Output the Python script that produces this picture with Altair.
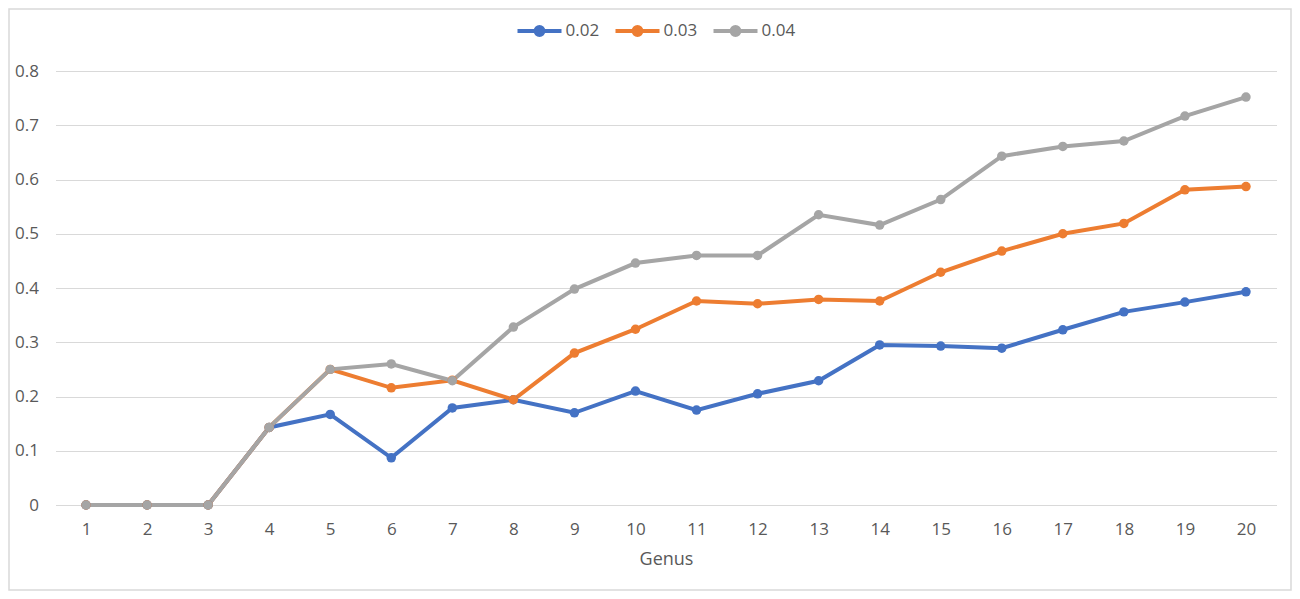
import altair as alt
import pandas as pd

genus = list(range(1, 21))
series_names = ["0.02", "0.03", "0.04"]
s002 = [0, 0, 0, 0.143, 0.167, 0.087, 0.179, 0.194, 0.170, 0.210,
        0.175, 0.205, 0.229, 0.295, 0.293, 0.289, 0.323, 0.356, 0.374, 0.393]
s003 = [0, 0, 0, 0.143, 0.250, 0.216, 0.230, 0.194, 0.280, 0.324,
        0.376, 0.371, 0.379, 0.376, 0.429, 0.468, 0.500, 0.519, 0.581, 0.587]
s004 = [0, 0, 0, 0.143, 0.250, 0.260, 0.229, 0.328, 0.398, 0.446,
        0.460, 0.460, 0.535, 0.516, 0.563, 0.643, 0.661, 0.671, 0.717, 0.752]
colors = ["#4472C4", "#ED7D31", "#A5A5A5"]

rows = []
for name, vals in zip(series_names, [s002, s003, s004]):
    for g, v in zip(genus, vals):
        rows.append({"Genus": g, "value": v, "series": name})
df = pd.DataFrame(rows)

W, H = 1221, 434
PL, PT, PR, PB = 47.5, 63, 15.5, 86
FONT = "Open Sans"
TXT = "#595959"

def circ(r):
    return f"M{-r},0A{r},{r},0,1,0,{r},0A{r},{r},0,1,0,{-r},0"

sym = "M-1,0L1,0" + circ(0.04) + circ(0.11) + circ(0.18)

color = alt.Color(
    "series:N",
    scale=alt.Scale(domain=series_names, range=colors),
    legend=alt.Legend(
        title=None, orient="none", direction="horizontal",
        legendX=460, legendY=-64,
        symbolType=sym, symbolSize=1936, symbolStrokeWidth=4,
        labelFontSize=17, labelColor=TXT, labelFont=FONT,
        labelOffset=2, columnPadding=8,
    ),
)

x = alt.X(
    "Genus:O",
    title="Genus",
    scale=alt.Scale(padding=0.5),
    axis=alt.Axis(
        labelAngle=0, ticks=False, domain=True, domainColor="#d9d9d9",
        grid=False, labelFontSize=17, labelColor=TXT, labelFont=FONT,
        labelPadding=16, titleFontSize=18, titleFontWeight="normal",
        titleColor=TXT, titleFont=FONT, titlePadding=13,
    ),
)
y = alt.Y(
    "value:Q",
    title=None,
    scale=alt.Scale(domain=[0, 0.8], nice=False),
    axis=alt.Axis(
        values=[0, 0.1, 0.2, 0.3, 0.4, 0.5, 0.6, 0.7, 0.8], format=".1~f",
        domain=False, ticks=False, grid=True, gridColor="#d9d9d9", gridWidth=1.2,
        labelFontSize=17, labelColor=TXT, labelFont=FONT,
        labelPadding=17,
    ),
)

lines = alt.Chart(df).mark_line(strokeWidth=4).encode(x=x, y=y, color=color)
points = alt.Chart(df).mark_circle(size=90, opacity=1).encode(
    x=x, y=y,
    color=alt.Color("series:N", scale=alt.Scale(domain=series_names, range=colors), legend=None),
)

border = alt.Chart(alt.Data(values=[{}])).mark_rect(
    fill="transparent", stroke="#d9d9d9", strokeWidth=1.5
).encode(
    x=alt.value(-PL + 1), x2=alt.value(W + PR - 1),
    y=alt.value(-PT + 1), y2=alt.value(H + PB - 1),
)

chart = alt.layer(border, lines, points).properties(
    width=W, height=H,
    autosize=alt.AutoSizeParams(type="none"),
    padding={"left": PL, "top": PT, "right": PR, "bottom": PB},
).configure_view(stroke=None)

chart.save("out.html", embed_options={"renderer": "svg", "actions": False})
